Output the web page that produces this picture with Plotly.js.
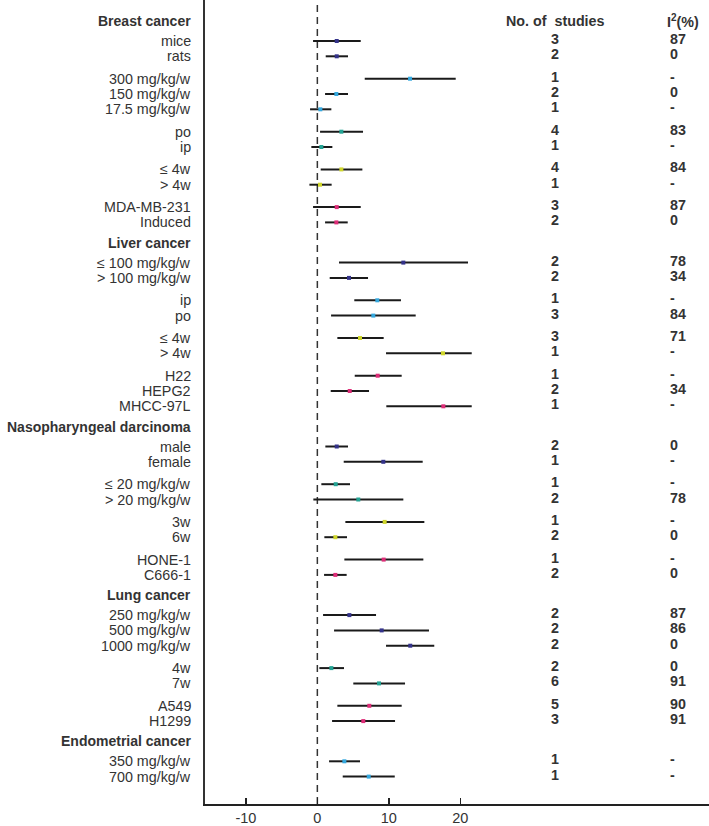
<!DOCTYPE html>
<html>
<head>
<meta charset="utf-8">
<script src="https://cdn.plot.ly/plotly-3.0.1.min.js"></script>
<style>html,body{margin:0;padding:0;background:#fff;}#chart{width:709px;height:826px;}</style>
</head>
<body>
<div id="chart"></div>
<script>
// ---------------- DATA ----------------
const cancers = ["Breast cancer", "Liver cancer", "Nasopharyngeal darcinoma", "Lung cancer", "Endometrial cancer"];
// number of rows in each subgroup, per cancer
const subgroupSizes = [[2, 3, 2, 2, 2], [2, 2, 2, 3], [2, 2, 2, 2], [3, 2, 2], [2]];

const labels = [
  "mice", "rats", "300 mg/kg/w", "150 mg/kg/w", "17.5 mg/kg/w", "po", "ip", "≤ 4w", "> 4w", "MDA-MB-231", "Induced",
  "≤ 100 mg/kg/w", "> 100 mg/kg/w", "ip", "po", "≤ 4w", "> 4w", "H22", "HEPG2", "MHCC-97L",
  "male", "female", "≤ 20 mg/kg/w", "> 20 mg/kg/w", "3w", "6w", "HONE-1", "C666-1",
  "250 mg/kg/w", "500 mg/kg/w", "1000 mg/kg/w", "4w", "7w", "A549", "H1299",
  "350 mg/kg/w", "700 mg/kg/w"
];
const estimate = [
  2.71, 2.71, 12.97, 2.66, 0.42, 3.36, 0.56, 3.36, 0.37, 2.71, 2.66,
  12.03, 4.43, 8.39, 7.83, 5.97, 17.58, 8.44, 4.53, 17.63,
  2.71, 9.23, 2.57, 5.73, 9.42, 2.52, 9.28, 2.52,
  4.48, 9.00, 13.00, 1.96, 8.63, 7.27, 6.43,
  3.78, 7.19
];
const ciLow = [
  -0.60, 1.17, 6.63, 1.08, -1.02, 0.38, -0.84, 0.47, -1.11, -0.60, 1.08,
  3.03, 1.73, 5.17, 1.92, 2.80, 9.61, 5.23, 1.87, 9.65,
  1.12, 3.69, 0.56, -0.56, 3.92, 0.98, 3.78, 0.94,
  0.80, 2.34, 9.61, 0.28, 5.03, 2.80, 2.06,
  1.64, 3.55
];
const ciHigh = [
  6.07, 4.29, 19.36, 4.29, 1.96, 6.39, 2.10, 6.30, 2.00, 6.07, 4.25,
  21.08, 7.09, 11.70, 13.76, 9.28, 21.60, 11.80, 7.23, 21.60,
  4.29, 14.74, 4.57, 12.03, 14.97, 4.15, 14.83, 4.10,
  8.21, 15.62, 16.36, 3.73, 12.27, 11.80, 10.87,
  5.97, 10.83
];
const nStudies = [
  "3", "2", "1", "2", "1", "4", "1", "4", "1", "3", "2",
  "2", "2", "1", "3", "3", "1", "1", "2", "1",
  "2", "1", "1", "2", "1", "2", "1", "2",
  "2", "2", "2", "2", "6", "5", "3",
  "1", "1"
];
const i2 = [
  "87", "0", "-", "0", "-", "83", "-", "84", "-", "87", "0",
  "78", "34", "-", "84", "71", "-", "-", "34", "-",
  "0", "-", "-", "78", "-", "0", "-", "0",
  "87", "86", "0", "0", "91", "90", "91",
  "-", "-"
];
const xTicks = [-10, 0, 10, 20];

// ---------------- STYLE ----------------
const palette = ["#34338a", "#35a8de", "#24a394", "#cfd62c", "#de2d78"];
const subgroupColor = [[0, 1, 2, 3, 4], [0, 1, 3, 4], [0, 2, 3, 4], [0, 2, 4], [1]];
const FONT = "Arial, 'Liberation Sans', sans-serif";
const TXT = "#333333";
// layout spacing (pixels of the plot area, y axis runs 0..804)
const ROW = 15.3, SUBGAP = 22.4, HDR_BEFORE = 20.2, HDR_AFTER = 20.0, FIRST_HDR = 21;

// ---------------- LAYOUT OF ROWS ----------------
const rowY = [], rowColor = [], headerY = [];
let last = null;
cancers.forEach((c, ci) => {
  const h = (ci === 0) ? FIRST_HDR : last + HDR_BEFORE;
  headerY.push(h);
  let y = h + HDR_AFTER;
  subgroupSizes[ci].forEach((n, k) => {
    if (k > 0) y = last + SUBGAP;
    for (let r = 0; r < n; r++) {
      if (r > 0) y += ROW;
      rowY.push(y);
      rowColor.push(palette[subgroupColor[ci][k]]);
      last = y;
    }
  });
});

// CI segments
const segX = [], segY = [];
for (let i = 0; i < labels.length; i++) {
  segX.push(ciLow[i], ciHigh[i], null);
  segY.push(rowY[i], rowY[i], null);
}

const traces = [
  {type: "scatter", mode: "lines", x: segX, y: segY, line: {color: "#1a1a1a", width: 2},
   hoverinfo: "skip", showlegend: false, cliponaxis: false},
  {type: "scatter", mode: "markers", x: estimate, y: rowY,
   marker: {symbol: "square", size: 4, color: rowColor, line: {width: 0}},
   showlegend: false, cliponaxis: false}
];

const annotations = [];
const PAPER_NUM = (555 - 205) / 504;
const PAPER_I2 = (668 - 205) / 504;
cancers.forEach((c, ci) => {
  annotations.push({xref: "paper", yref: "y", x: 0, y: headerY[ci], xshift: -12, xanchor: "right", yanchor: "middle",
    text: "<b>" + c + "</b>", showarrow: false, font: {family: FONT, size: 14, color: TXT}});
});
labels.forEach((l, i) => {
  annotations.push({xref: "paper", yref: "y", x: 0, y: rowY[i], xshift: -12, xanchor: "right", yanchor: "middle",
    text: l, showarrow: false, font: {family: FONT, size: 14.3, color: TXT}});
  annotations.push({xref: "paper", yref: "y", x: PAPER_NUM, y: rowY[i], yshift: 2, xanchor: "center", yanchor: "middle",
    text: "<b>" + nStudies[i] + "</b>", showarrow: false, font: {family: FONT, size: 14.3, color: TXT}});
  annotations.push({xref: "paper", yref: "y", x: PAPER_I2, y: rowY[i], yshift: 2, xanchor: "left", yanchor: "middle",
    text: "<b>" + i2[i] + "</b>", showarrow: false, font: {family: FONT, size: 14.3, color: TXT}});
});
annotations.push({xref: "paper", yref: "y", x: PAPER_NUM, y: headerY[0], xanchor: "center", yanchor: "middle",
  text: "<b>No. of&nbsp; studies</b>", showarrow: false, font: {family: FONT, size: 14.3, color: TXT}});
annotations.push({xref: "paper", yref: "y", x: (665 - 205) / 504, y: headerY[0], xanchor: "left", yanchor: "middle",
  text: "<b>I<sup>2</sup>(%)</b>", showarrow: false, font: {family: FONT, size: 14.3, color: TXT}});

const layout = {
  width: 709, height: 826,
  margin: {l: 205, r: 0, t: 0, b: 22, pad: 0},
  paper_bgcolor: "#ffffff", plot_bgcolor: "#ffffff",
  showlegend: false,
  font: {family: FONT, color: TXT},
  xaxis: {
    range: [-15.72, 54.8], tickvals: xTicks, ticktext: xTicks.map(String),
    showline: true, linecolor: "#222", linewidth: 2, mirror: false,
    ticks: "inside", ticklen: 6, tickwidth: 1.5, tickcolor: "#222",
    showgrid: false, zeroline: false, fixedrange: true,
    tickfont: {family: FONT, size: 14.5, color: TXT}
  },
  yaxis: {
    range: [804, 0], showline: true, linecolor: "#333", linewidth: 2,
    showticklabels: false, ticks: "", showgrid: false, zeroline: false, fixedrange: true
  },
  shapes: [{type: "line", xref: "x", yref: "paper", x0: 0, x1: 0, y0: 0, y1: 1,
    line: {color: "#333", width: 1.5, dash: "7px,5px"}, layer: "below"}],
  annotations: annotations
};

Plotly.newPlot("chart", traces, layout, {displayModeBar: false, staticPlot: true});
</script>
</body>
</html>
